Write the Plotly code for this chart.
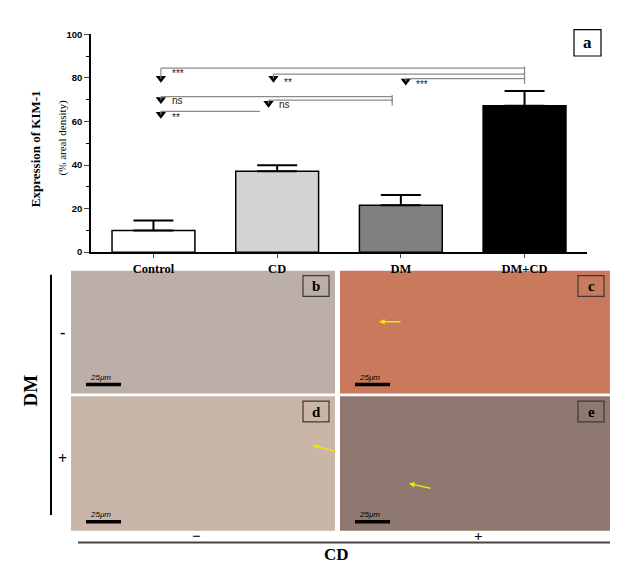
import plotly.graph_objects as go

# bar chart data (KIM-1 expression, % areal density)
groups = ["Control", "CD", "DM", "DM+CD"]
means = [10.0, 37.2, 21.5, 67.3]
sems = [4.5, 2.7, 4.8, 6.7]
bar_colors = ["white", "#d4d4d4", "#808080", "black"]

# significance brackets: start, end, line level, arrow level, label
sig_start = [0.06, 0.97, 2.04, 0.06, 0.93, 0.06]
sig_end = [3.0, 3.0, 3.0, 1.93, 1.93, 0.86]
sig_level = [84.5, 81.8, 79.7, 71.4, 69.8, 64.7]
sig_arrow = [78.3, 78.3, 77.0, 68.5, 66.8, 61.7]
sig_label = ["***", "**", "***", "ns", "ns", "**"]
sig_label_y = [82.0, 78.0, 77.0, 69.6, 68.0, 61.7]
sig_end_tick = [True, True, True, True, True, False]

# micrograph panels (b-e): mean tissue tone
panel_names = ["b", "c", "d", "e"]
panel_tones = ["#bcaea8", "#c97a5c", "#c9b6a8", "#8e786f"]

W, H = 639, 570


def px(x):
    return x / W


def py(y):
    return 1 - y / H


def label(x, y, text, size, family="Liberation Serif", angle=0, anchor="center"):
    return dict(x=px(x), y=py(y), xref="paper", yref="paper", text=text, textangle=angle,
                showarrow=False, xanchor=anchor, yanchor="middle",
                font=dict(family=family, size=size, color="black"))


fig = go.Figure()
fig.add_trace(
    go.Bar(
        x=list(range(len(groups))),
        y=means,
        width=0.67,
        marker=dict(color=bar_colors, line=dict(color="black", width=1.5)),
        error_y=dict(
            type="data",
            array=sems,
            arrayminus=[0] * len(sems),
            symmetric=False,
            color="black",
            thickness=2,
            width=20,
        ),
        showlegend=False,
    )
)

shapes = []
annotations = []
for x0, x1, lvl, arr, lab, ly, tick in zip(
    sig_start, sig_end, sig_level, sig_arrow, sig_label, sig_label_y, sig_end_tick
):
    shapes.append(dict(type="line", xref="x", yref="y", x0=x0, x1=x1, y0=lvl, y1=lvl,
                       line=dict(color="#8a8a8a", width=1.2)))
    shapes.append(dict(type="line", xref="x", yref="y", x0=x0, x1=x0, y0=lvl, y1=arr + 1.5,
                       line=dict(color="#8a8a8a", width=1.2)))
    if tick:
        shapes.append(dict(type="line", xref="x", yref="y", x0=x1, x1=x1, y0=lvl + 0.8, y1=lvl - 2.5,
                           line=dict(color="#8a8a8a", width=1.2)))
    annotations.append(dict(x=x0 + 0.07, y=ly, xref="x", yref="y", text=lab, showarrow=False,
                            xanchor="left", yanchor="middle",
                            font=dict(family="Liberation Sans", size=10, color="#222")))

fig.add_trace(
    go.Scatter(
        x=sig_start,
        y=[a + 1.6 for a in sig_arrow],
        mode="markers",
        marker=dict(symbol="triangle-down", size=9, color="black"),
        showlegend=False,
        hoverinfo="skip",
    )
)

# panel 'a' tag
shapes.append(dict(type="rect", xref="paper", yref="paper", x0=px(574), x1=px(601), y0=py(51), y1=py(24),
                   line=dict(color="black", width=1.2), fillcolor="white"))
annotations.append(label(587.5, 37.5, "<b>a</b>", 17))

# y axis title (two lines)
annotations.append(label(35, 146, "<b>Expression of KIM-1</b>", 13, angle=-90))
annotations.append(label(62, 135, "(% areal density)", 11, angle=-90))

# micrograph panels
panel_boxes = [(71, 335, 270, 395), (340, 610, 270, 395), (71, 335, 398, 535), (340, 610, 398, 535)]
for name, tone, (l, r, t, b) in zip(panel_names, panel_tones, panel_boxes):
    shapes.append(dict(type="rect", xref="paper", yref="paper", x0=px(l), x1=px(r), y0=py(b), y1=py(t),
                       line=dict(width=0), fillcolor=tone, layer="below"))
    # letter tag
    shapes.append(dict(type="rect", xref="paper", yref="paper", x0=px(r - 32), x1=px(r - 6),
                       y0=py(t + 26), y1=py(t + 5), line=dict(color="#3a3a3a", width=1.2)))
    annotations.append(label(r - 19, t + 15.5, f"<b>{name}</b>", 15))
    # scale bar
    shapes.append(dict(type="line", xref="paper", yref="paper", x0=px(l + 15), x1=px(l + 50),
                       y0=py(b - 9), y1=py(b - 9), line=dict(color="black", width=3.5)))
    annotations.append(label(l + 17, b - 16, "<i>25μm</i>", 8, family="Liberation Sans", anchor="left"))

# yellow arrows marking KIM-1 staining (tail x, tail y, head x, head y in pixels)
for (ax, ay, hx, hy) in [(402, 322, 379, 322), (338, 455, 313, 448), (432, 492, 409, 487)]:
    annotations.append(dict(x=px(hx), y=py(hy), ax=ax - hx, ay=ay - hy, xref="paper", yref="paper",
                            text="", showarrow=True, arrowhead=2,
                            arrowsize=0.8, arrowwidth=1.4, arrowcolor="#f2e600"))

# DM / CD grouping lines and labels
shapes.append(dict(type="line", xref="paper", yref="paper", x0=px(51), x1=px(51), y0=py(519), y1=py(274),
                   line=dict(color="black", width=2)))
shapes.append(dict(type="line", xref="paper", yref="paper", x0=px(78), x1=px(610), y0=py(547), y1=py(547),
                   line=dict(color="#444", width=2)))
annotations += [
    label(30, 392, "<b>DM</b>", 19, angle=-90),
    label(63, 333, "<b>-</b>", 16),
    label(63, 461, "<b>+</b>", 16),
    label(196, 540, "<b>−</b>", 15),
    label(478, 540, "<b>+</b>", 15),
    label(337, 559, "<b>CD</b>", 17),
]

fig.update_layout(
    width=W,
    height=H,
    margin=dict(l=0, r=0, t=0, b=0),
    plot_bgcolor="white",
    paper_bgcolor="white",
    bargap=0.33,
    shapes=shapes,
    annotations=annotations,
    xaxis=dict(
        domain=[px(91), px(587)],
        range=[-0.505, 3.505],
        tickvals=list(range(len(groups))),
        ticktext=[f"<b>{g}</b>" for g in groups],
        tickfont=dict(family="Liberation Serif", size=12.5, color="black"),
        ticks="outside",
        ticklen=4,
        tickwidth=1.2,
        showline=True,
        linecolor="black",
        linewidth=1.5,
        showgrid=False,
        zeroline=False,
        fixedrange=True,
    ),
    yaxis=dict(
        domain=[py(251), py(29)],
        range=[0, 100],
        tickvals=[0, 20, 40, 60, 80, 100],
        ticktext=[f"<b>{v}</b>" for v in [0, 20, 40, 60, 80, 100]],
        tickfont=dict(family="Liberation Sans", size=9.5, color="black"),
        ticks="outside",
        ticklen=5,
        tickwidth=1.2,
        minor=dict(dtick=10, ticks="outside", ticklen=3, tickwidth=1, tickcolor="black"),
        showline=True,
        linecolor="black",
        linewidth=1.5,
        showgrid=False,
        zeroline=False,
        fixedrange=True,
    ),
)

fig.write_html(
    "out.html",
    config={"displayModeBar": False},
    post_script="document.body.style.margin='0';",
)
